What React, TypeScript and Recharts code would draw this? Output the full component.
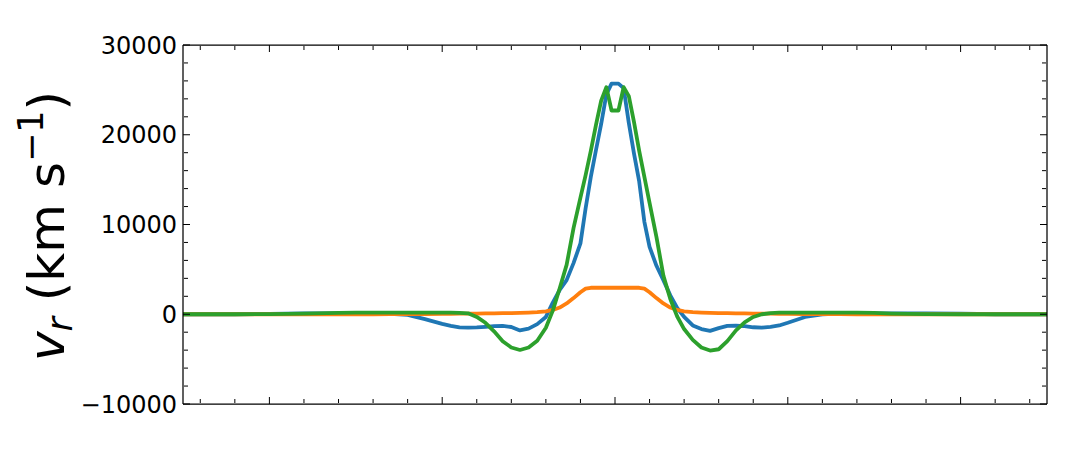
import { LineChart, Line, XAxis, YAxis } from "recharts";

// radial grid, symmetric about 0
const xs = [
  -2.5, -2.2, -2.0, -1.8, -1.6, -1.5, -1.4, -1.3, -1.2, -1.1, -1.0, -0.95, -0.9, -0.85, -0.8, -0.75, -0.7,
  -0.65, -0.6, -0.55, -0.5, -0.45, -0.4, -0.36, -0.32, -0.28, -0.24, -0.2, -0.17, -0.14, -0.11, -0.08, -0.05, -0.02,
  0.02, 0.05, 0.08, 0.11, 0.14, 0.17, 0.2, 0.24, 0.28, 0.32, 0.36, 0.4, 0.45, 0.5, 0.55, 0.6, 0.65,
  0.7, 0.75, 0.8, 0.85, 0.9, 0.95, 1.0, 1.1, 1.2, 1.3, 1.4, 1.5, 1.6, 1.8, 2.0, 2.2, 2.5,
];

const blue = [
  0, 0, 50, 100, 100, 100, 100, 50, -80, -550, -1080, -1300, -1460, -1480, -1460, -1400, -1320,
  -1290, -1420, -1800, -1600, -1100, -300, 1300, 2700, 3800, 5700, 7900, 11800, 15300, 18300, 21200, 24500, 25700,
  25700, 25200, 21300, 17900, 14800, 10300, 7500, 5400, 3800, 2100, 700, -300, -1250, -1650, -1850, -1550, -1300,
  -1280, -1330, -1450, -1490, -1400, -1250, -950, -300, -20, 60, 100, 100, 100, 100, 60, 0, 0,
];

const orange = [
  0, 0, 0, 0, 0, 0, 0, 5, 15, 25, 40, 50, 60, 70, 80, 90, 100,
  115, 130, 150, 180, 230, 330, 480, 750, 1200, 1800, 2450, 2850, 2950, 2950, 2950, 2950, 2950,
  2950, 2950, 2950, 2950, 2950, 2850, 2450, 1800, 1200, 750, 480, 330, 230, 180, 150, 130, 115,
  100, 90, 80, 70, 60, 50, 40, 25, 15, 5, 0, 0, 0, 0, 0, 0, 0,
];

const green = [
  0, 0, 10, 60, 150, 180, 190, 190, 190, 190, 190, 180, 160, 100, -300, -950, -1900,
  -3000, -3700, -3980, -3700, -2950, -1500, 400, 2900, 5500, 9600, 13000, 15500, 18200, 21100, 23800, 25300, 22700,
  22700, 25300, 24300, 21400, 18200, 15300, 12400, 8600, 4300, 1700, -250, -1650, -2850, -3700, -4040, -3900, -3000,
  -1800, -900, -300, 0, 130, 180, 190, 190, 190, 190, 180, 150, 80, 10, 0, 0, 0,
];

const xMajorTicks = [-2, -1, 0, 1, 2];
const xMinorTicks = [
  -2.4, -2.2, -1.8, -1.6, -1.4, -1.2, -0.8, -0.6, -0.4, -0.2, 0.2, 0.4, 0.6, 0.8, 1.2, 1.4, 1.6, 1.8, 2.2, 2.4,
];
const yMajorTicks = [-10000, 0, 10000, 20000, 30000];
const yMinorTicks = [
  -8000, -6000, -4000, -2000, 2000, 4000, 6000, 8000, 12000, 14000, 16000, 18000, 22000, 24000, 26000, 28000,
];

const data = xs.map((x, i) => ({ x, blue: blue[i], orange: orange[i], green: green[i] }));

const FONT = "DejaVu Sans";
const frame = { stroke: "#000", strokeWidth: 1.25 };
const tickStroke = { stroke: "#000", strokeWidth: 1 };

const fmtY = (v: number) => (v < 0 ? "\u2212" + Math.abs(v) : String(v));
const NoLabel = () => <g />;

function YLabel() {
  return (
    <text
      x={0}
      y={0}
      transform="translate(64,226) rotate(-90)"
      textAnchor="middle"
      fontSize={50}
      fontFamily={FONT}
      fill="#000"
      style={{ whiteSpace: "pre" }}
    >
      <tspan fontStyle="italic">v</tspan>
      <tspan fontStyle="italic" fontSize={35} dy={8}>r</tspan>
      <tspan dy={-8}> (km s</tspan>
      <tspan fontSize={35} dy={-21}>{"\u22121"}</tspan>
      <tspan dy={21}>)</tspan>
    </text>
  );
}

export default function App() {
  // tick-only axes: mirrored so the marks point into the plot
  const xProps = { type: "number" as const, domain: [-2.5, 2.5], allowDataOverflow: true, height: 1, tick: NoLabel, interval: 0 as const, mirror: true };
  const yProps = { type: "number" as const, domain: [-10000, 30000], allowDataOverflow: true, width: 1, tick: NoLabel, interval: 0 as const, mirror: true };

  return (
    <div style={{ position: "absolute", left: 0, top: 0, fontFamily: FONT, background: "#fff" }}>
      <LineChart width={1080} height={450} data={data} margin={{ top: 45, right: 33, bottom: 46, left: 0 }}>
        <XAxis xAxisId="b" dataKey="x" orientation="bottom" {...xProps} ticks={xMajorTicks} tickSize={7} axisLine={frame} tickLine={tickStroke} />
        <XAxis xAxisId="bm" dataKey="x" orientation="bottom" {...xProps} ticks={xMinorTicks} tickSize={4} axisLine={false} tickLine={tickStroke} />
        <XAxis xAxisId="t" dataKey="x" orientation="top" {...xProps} ticks={xMajorTicks} tickSize={7} axisLine={frame} tickLine={tickStroke} />
        <XAxis xAxisId="tm" dataKey="x" orientation="top" {...xProps} ticks={xMinorTicks} tickSize={4} axisLine={false} tickLine={tickStroke} />

        <YAxis
          yAxisId="l"
          type="number"
          domain={[-10000, 30000]}
          allowDataOverflow
          ticks={yMajorTicks}
          interval={0}
          width={183}
          tickLine={false}
          tickSize={0}
          tickMargin={6}
          tick={{ fill: "#000", fontSize: 24, fontFamily: FONT }}
          tickFormatter={fmtY}
          axisLine={frame}
          label={{ content: () => <YLabel /> }}
        />
        <YAxis yAxisId="lM" orientation="left" {...yProps} ticks={yMajorTicks} tickSize={7} axisLine={false} tickLine={tickStroke} />
        <YAxis yAxisId="lm" orientation="left" {...yProps} ticks={yMinorTicks} tickSize={4} axisLine={false} tickLine={tickStroke} />
        <YAxis yAxisId="rM" orientation="right" {...yProps} ticks={yMajorTicks} tickSize={7} axisLine={frame} tickLine={tickStroke} />
        <YAxis yAxisId="rm" orientation="right" {...yProps} ticks={yMinorTicks} tickSize={4} axisLine={false} tickLine={tickStroke} />

        <Line xAxisId="b" yAxisId="l" type="linear" dataKey="blue" stroke="#1f77b4" strokeWidth={3.8} dot={false} strokeLinejoin="round" isAnimationActive={false} />
        <Line xAxisId="b" yAxisId="l" type="linear" dataKey="orange" stroke="#ff7f0e" strokeWidth={3.8} dot={false} strokeLinejoin="round" isAnimationActive={false} />
        <Line xAxisId="b" yAxisId="l" type="linear" dataKey="green" stroke="#2ca02c" strokeWidth={3.8} dot={false} strokeLinejoin="round" isAnimationActive={false} />
      </LineChart>
    </div>
  );
}
